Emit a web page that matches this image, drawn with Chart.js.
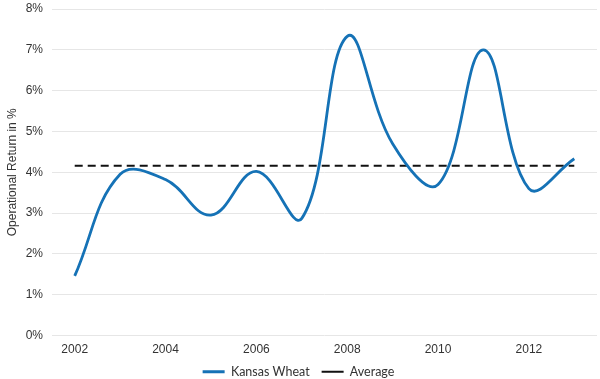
<!DOCTYPE html>
<html>
<head>
<meta charset="utf-8">
<script src="https://cdn.jsdelivr.net/npm/chart.js@4/dist/chart.umd.min.js"></script>
<style>
html,body{margin:0;padding:0;background:#fff;}
#wrap{width:600px;height:379px;position:relative;}
</style>
</head>
<body>
<div id="wrap"><canvas id="c" width="600" height="379"></canvas></div>
<script>
const years = ["2002","2003","2004","2005","2006","2007","2008","2009","2010","2011","2012","2013"];
const kansasWheat = [1.46, 3.95, 3.82, 2.95, 4.02, 2.87, 7.33, 4.7, 3.7, 7.0, 3.6, 4.33];
const average = [4.16, 4.16, 4.16, 4.16, 4.16, 4.16, 4.16, 4.16, 4.16, 4.16, 4.16, 4.16];
const yTicks = [0, 1, 2, 3, 4, 5, 6, 7, 8];

const TICKFONT = "'Liberation Sans', Arial, sans-serif";
const LEGFONT = "Lato, 'Open Sans', sans-serif";

new Chart(document.getElementById('c'), {
  type: 'line',
  data: {
    labels: years,
    datasets: [
      {
        label: 'Kansas Wheat',
        data: kansasWheat,
        borderColor: '#1572b6',
        backgroundColor: '#1572b6',
        borderWidth: 2.8,
        pointRadius: 0,
        tension: 0.4,
        fill: false
      },
      {
        label: 'Average',
        data: average,
        borderColor: '#111111',
        backgroundColor: '#111111',
        borderWidth: 2,
        borderDash: [8, 5],
        pointRadius: 0,
        tension: 0,
        fill: false
      }
    ]
  },
  options: {
    responsive: false,
    animation: false,
    devicePixelRatio: 1,
    layout: { padding: { top: 0, right: 3, left: 0, bottom: -9 } },
    plugins: {
      tooltip: { enabled: false },
      legend: {
        position: 'bottom',
        labels: {
          font: { family: LEGFONT, size: 12.5 },
          color: '#333333',
          boxWidth: 22,
          boxHeight: 0,
          padding: 12,
          generateLabels(chart) {
            return chart.data.datasets.map((ds, i) => ({
              text: ds.label,
              fillStyle: ds.borderColor,
              strokeStyle: ds.borderColor,
              lineWidth: ds.borderWidth,
              lineDash: i === 1 ? [7, 4] : [],
              hidden: false,
              datasetIndex: i,
              fontColor: '#333333'
            }));
          }
        }
      }
    },
    scales: {
      x: {
        type: 'category',
        offset: true,
        grid: { display: false, drawTicks: false },
        border: { display: false },
        afterFit(scale) { scale.height = 18; },
        ticks: {
          autoSkip: false,
          maxRotation: 0,
          padding: 7,
          color: '#333333',
          font: { family: TICKFONT, size: 12 },
          callback: function(v, i) { return i % 2 === 0 ? years[i] : ''; }
        }
      },
      y: {
        min: 0,
        max: 8,
        afterBuildTicks(scale) { scale.ticks = yTicks.map(v => ({ value: v })); },
        afterFit(scale) { scale.width = 52; scale.paddingTop = 9; scale.paddingBottom = 0; },
        grid: { color: '#e6e6e6', drawTicks: false, lineWidth: 1 },
        border: { display: false },
        ticks: {
          padding: 9,
          color: '#333333',
          font: { family: TICKFONT, size: 12 },
          callback: v => v + '%'
        },
        title: {
          display: true,
          text: 'Operational Return in %',
          color: '#333333',
          font: { family: TICKFONT, size: 12 },
          padding: { top: 5, bottom: 0 }
        }
      }
    }
  }
});
</script>
</body>
</html>
